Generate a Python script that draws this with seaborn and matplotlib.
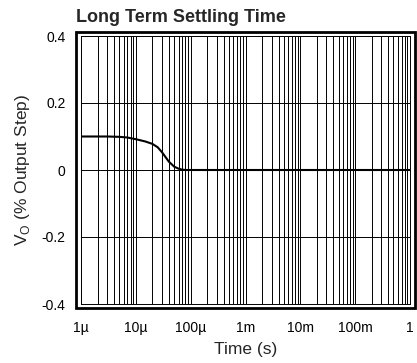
import numpy as np
import pandas as pd
import matplotlib
matplotlib.use("Agg")
import matplotlib.pyplot as plt
from matplotlib.patches import Rectangle
from matplotlib.ticker import LogLocator, FixedLocator, NullFormatter
import seaborn as sns

# Data
time_s = [1e-6, 3e-6, 5e-6, 7e-6, 10e-6, 15e-6, 20e-6, 25e-6, 30e-6, 35e-6,
          40e-6, 50e-6, 60e-6, 70e-6, 80e-6, 1e-4, 1e-3, 1e-2, 1e-1, 1.0]
vo_pct = [0.100, 0.100, 0.099, 0.097, 0.092, 0.085, 0.078, 0.068, 0.053, 0.038,
          0.025, 0.010, 0.004, 0.001, 0.0, 0.0, 0.0, 0.0, 0.0, 0.0]
x_ticks = [1e-6, 1e-5, 1e-4, 1e-3, 1e-2, 1e-1, 1.0]
x_tick_labels = ["1\u00b5", "10\u00b5", "100\u00b5", "1m", "10m", "100m", "1"]
y_ticks = [-0.4, -0.2, 0.0, 0.2, 0.4]
y_tick_labels = ["-0.4", "-0.2", "0", "0.2", "0.4"]

sns.set_style("white")
plt.rcParams["font.family"] = ["Liberation Sans", "DejaVu Sans"]
plt.rcParams["mathtext.fontset"] = "custom"
plt.rcParams["mathtext.rm"] = "Liberation Sans"

fig = plt.figure(figsize=(4.17, 3.63), dpi=100)
ax = fig.add_axes([81 / 417, 59 / 363, 329 / 417, 268 / 363])

df = pd.DataFrame({"t": time_s, "v": vo_pct})
sns.lineplot(data=df, x="t", y="v", ax=ax, color="black", linewidth=1.5)

ax.set_xscale("log")
ax.set_xlim(1e-6, 1.0)
ax.set_ylim(-0.4, 0.4)
ax.xaxis.set_major_locator(FixedLocator(x_ticks))
ax.set_xticklabels(x_tick_labels)
ax.xaxis.set_minor_locator(LogLocator(base=10, subs=np.arange(2, 10), numticks=20))
ax.xaxis.set_minor_formatter(NullFormatter())
ax.set_yticks(y_ticks)
ax.set_yticklabels(y_tick_labels)

ax.grid(True, which="major", axis="both", color="black", linewidth=0.7)
ax.grid(True, which="minor", axis="x", color="black", linewidth=0.7)
ax.set_axisbelow(True)
for s in ax.spines.values():
    s.set_color("black")
    s.set_linewidth(0.7)

ax.tick_params(axis="both", which="both", length=0, labelsize=10, colors="black")
ax.tick_params(axis="x", pad=12.5)
ax.tick_params(axis="y", pad=11)

ax.set_xlabel("Time (s)", fontsize=12.5, labelpad=5)
ax.set_ylabel(r"V$_\mathrm{O}$ (% Output Step)", fontsize=12.5, labelpad=7)

# outer thick frame
frame = Rectangle((76 / 417, (363 - 308) / 363), (415 - 76) / 417, (308 - 32) / 363,
                  transform=fig.transFigure, fill=False, edgecolor="black",
                  linewidth=2.0, clip_on=False)
fig.patches.append(frame)

fig.text(76 / 417, 1 - 22 / 363, "Long Term Settling Time", fontsize=13,
         fontweight="bold", ha="left", va="baseline")

fig.savefig("out.png", dpi=100)
